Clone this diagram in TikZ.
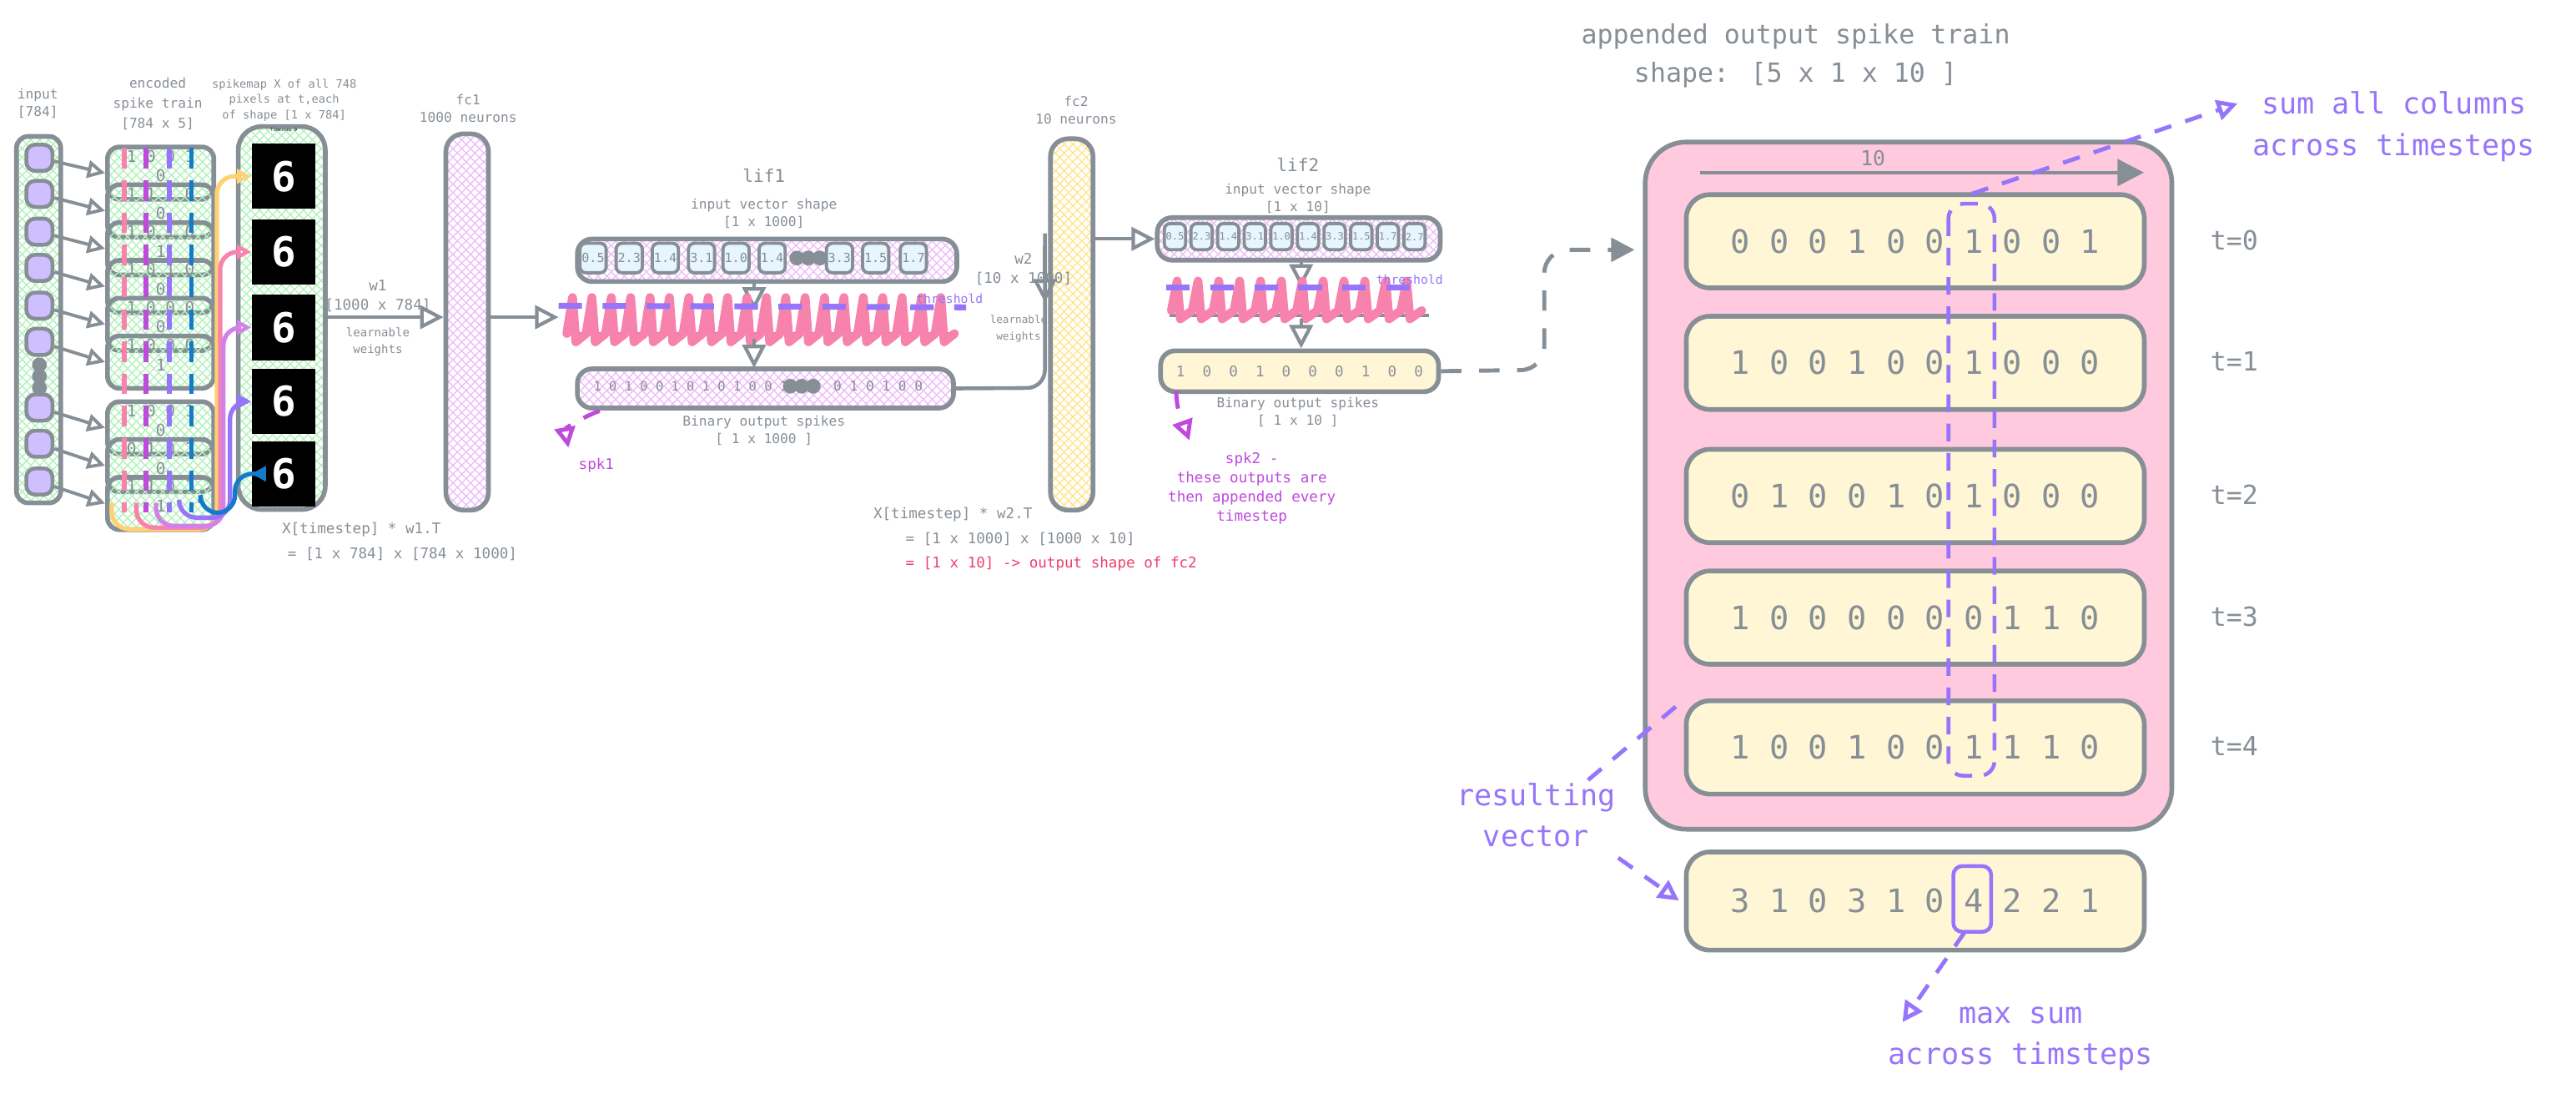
\documentclass[tikz,border=0pt]{standalone}
\usepackage{fontspec}
\setmainfont{DejaVu Sans Mono}
\usetikzlibrary{patterns,arrows.meta}
\definecolor{lgray}{HTML}{868E96}
\definecolor{spkpink}{HTML}{F783AC}
\definecolor{thpurple}{HTML}{9775FA}
\definecolor{mag}{HTML}{BE4BDB}
\definecolor{cellblue}{HTML}{E7F5FF}
\definecolor{cream}{HTML}{FFF6D6}
\definecolor{boxpink}{HTML}{FFC9DE}
\definecolor{hgreen}{HTML}{B2F2BB}
\definecolor{hviolet}{HTML}{EEBEFA}
\definecolor{hyellow}{HTML}{FFE58F}
\definecolor{sqpurple}{HTML}{D0BFFF}
\definecolor{redtxt}{HTML}{F03E6E}
\tikzstyle{gbox} = [draw=lgray,line width=1.6pt,rounded corners=4pt]
\tikzstyle{tri} = [-{Triangle[open,length=8pt,width=8pt]},draw=lgray,line width=1.2pt]
\tikzstyle{stri} = [-{Triangle[open,length=6pt,width=6pt]},draw=lgray,line width=1.1pt]
\tikzstyle{lbl} = [text=lgray,align=center,font=\fontsize{4.6}{6}\selectfont]
\tikzstyle{big} = [text=lgray,align=center,font=\fontsize{9}{13}\selectfont]
\tikzstyle{pur} = [text=thpurple,align=center,font=\fontsize{10}{14}\selectfont]
\tikzstyle{cell} = [draw=lgray,line width=1.1pt,fill=cellblue,rounded corners=2pt,inner sep=0pt,text=lgray,font=\fontsize{4.3}{5}\selectfont]
\tikzstyle{darr} = [-{Triangle[open,length=7pt,width=7pt]},line width=1.4pt,dash pattern=on 6pt off 5pt]
\begin{document}
\begin{tikzpicture}[x=0.019694cm,y=-0.019694cm]
\useasboundingbox (0,0) rectangle (1568,671.3);

% input column
\node[lbl] (inlbl) at (23,63) {input\\{}[784]};
\draw[gbox,pattern=crosshatch,pattern color=hgreen] (10,83) rectangle (37,306);
\foreach \y/\n in {96/1,118/2,141/3,163/4,186/5,208/6,248/7,270/8,293/9}
  \node[draw=lgray,line width=1.3pt,fill=sqpurple,rounded corners=3pt,minimum size=16*0.558pt,inner sep=0pt] (in\n) at (24,\y) {};
\foreach \y in {222,229,236} \fill[lgray] (24,\y) circle (4.5);

% encoded spike train
\node[lbl,font=\fontsize{4.6}{6.8}\selectfont] (enclbl) at (96,63) {encoded\\spike train\\{}[784 x 5]};
\foreach \y/\n in {88/1,111/2,134/3,157/4,180/5,203/6,243/7,266/8,289/9}
  \node[gbox,pattern=crosshatch,pattern color=hgreen,minimum width=65*0.558pt,minimum height=32*0.558pt,anchor=north west,inner sep=0pt] (enc\n) at (64,\y) {};
\foreach \n/\a/\b in {1/{1 0 0 1}/0,2/{1 1 1 0}/0,3/{1 0 1 0}/1,4/{1 0 1 0}/0,5/{1 0 0 0}/0,6/{1 0 0 0}/1,7/{1 0 0 1}/0,8/{0 1 0 1}/0,9/{1 1 0 1}/1}{
  \node[lbl,font=\fontsize{5.5}{6}\selectfont] at ([yshift=-7*0.558pt]enc\n.north) {\a};
  \node[lbl,font=\fontsize{5.5}{6}\selectfont] at ([yshift=-19*0.558pt]enc\n.north) {\b};
  \draw[stri] (in\n) -- (enc\n.west);
}
\foreach \x/\c in {75.5/spkpink,89/mag,103/thpurple,116.5/cyan!60!blue}
  \draw[\c,line width=1.6pt,dash pattern=on 7pt off 4pt] (\x,90) -- (\x,312);

% spikemap
\node[lbl,font=\fontsize{3.9}{5.2}\selectfont] (maplbl) at (173,61) {spikemap X of all 748\\pixels at t,each\\of shape [1 x 784]};
\draw[gbox,rounded corners=8pt,pattern=crosshatch,pattern color=hgreen] (145,77) rectangle (198,310);
\foreach \y/\k in {87/0,133/1,179/2,224/3,268/4}{
  \node[fill=black,minimum width=39*0.558pt,minimum height=40*0.558pt,anchor=north west,inner sep=0pt,text=white,font=\bfseries\fontsize{14}{14}\selectfont] (img\k) at (153,\y) {6};
  \node[text=black,font=\fontsize{1.5}{2}\selectfont,above=0pt] at (img\k.north) {Timestep \k};
}
\foreach \k/\x/\c/\t/\yb in {0/68/hyellow!80!orange/132/322,1/83/spkpink/134/321,2/95/mag!70/136/320,3/109/thpurple/140/315,4/122/cyan!60!blue/143/312}{
  \coordinate (src\k) at (\x,306);
  \draw[\c,line width=1.5pt,rounded corners=6pt,-{Triangle[open,length=5pt,width=5pt]}] (src\k) -- (\x,\yb) -- (\t,\yb) |- (img\k.west);
}

% fc1
\node[lbl] (fc1lbl) at (285,66) {fc1\\1000 neurons};
\node[gbox,rounded corners=6pt,pattern=crosshatch,pattern color=hviolet,minimum width=26*0.558pt,minimum height=230*0.558pt,anchor=north west,inner sep=0pt] (fc1) at (270,80) {};
\coordinate (w1s) at (198,193);
\draw[tri] (w1s) -- (w1s -| fc1.west);
\node[lbl,font=\fontsize{5}{6.5}\selectfont] (w1) at (230,180) {w1\\{}[1000 x 784]};
\node[lbl,font=\fontsize{4}{5.5}\selectfont] (w1b) at (230,208) {learnable\\weights};
\node[lbl,font=\fontsize{5}{6}\selectfont] (eq1) at (220,322) {X[timestep] * w1.T};
\node[lbl,font=\fontsize{5}{6}\selectfont] (eq1b) at (245,337) {= [1 x 784] x [784 x 1000]};

% lif1
\node[lbl,font=\fontsize{6}{7}\selectfont] (lif1) at (465,107) {lif1};
\node[lbl] (lif1in) at (465,130) {input vector shape\\{}[1 x 1000]};
\node[gbox,rounded corners=5pt,pattern=crosshatch,pattern color=hviolet,minimum width=232*0.558pt,minimum height=26*0.558pt,anchor=north west,inner sep=0pt] (vec1) at (350,144) {};
\foreach \x/\v in {361/0.5,383/2.3,405/1.4,427/3.1,448/1.0,470/1.4,511/3.3,533/1.5,556/1.7}
  \node[cell,minimum width=16*0.558pt,minimum height=18*0.558pt] at (\x,157) {\v};
\foreach \x in {485,492,499} \fill[lgray] (\x,157) circle (4.5);
\coordinate (l1in) at (340,193);
\draw[tri] (l1in -| fc1.east) -- (l1in);
\draw[tri] (459,170) -- (459,189);
\draw[lgray,line width=1.3pt] (345,203) -- (582,203);
\draw[spkpink,line width=3pt,line cap=round,line join=round] (345,203) \foreach \i in {0,...,19}{ -- ++(3.5,-22) -- ++(2,27) -- ++(6.3,-5)};
\draw[thpurple,line width=2pt,dash pattern=on 8pt off 7pt] (340,186) -- (588,187);
\node[text=thpurple,font=\fontsize{4.2}{5}\selectfont] (th1) at (578,182) {threshold};
\draw[tri] (459,206) -- (459,224);
\node[gbox,rounded corners=5pt,pattern=crosshatch,pattern color=hviolet,minimum width=230*0.558pt,minimum height=24*0.558pt,anchor=north west,inner sep=0pt] (out1) at (350,223) {};
\node[lbl,font=\fontsize{4.4}{6}\selectfont,anchor=west] (bits1) at (355,235) {1 0 1 0 0 1 0 1 0 1 0 0 1 1};
\foreach \x in {481,488,495} \fill[lgray] (\x,235) circle (4.5);
\node[lbl,font=\fontsize{4.6}{6}\selectfont,anchor=west] (bits1b) at (501,235) {0 1 0 1 0 0};
\node[lbl] (bin1) at (465,262) {Binary output spikes\\{}[ 1 x 1000 ]};
\node[text=mag,font=\fontsize{5}{6}\selectfont] (spk1) at (363,283) {spk1};
\draw[darr,mag] (365,250) to[out=200,in=100] (spk1.north west);

% fc2
\node[lbl] (fc2lbl) at (655,67) {fc2\\10 neurons};
\node[gbox,rounded corners=6pt,pattern=crosshatch,pattern color=hyellow,minimum width=26*0.558pt,minimum height=227*0.558pt,anchor=north west,inner sep=0pt] (fc2) at (638,83) {};
\draw[lgray,line width=1.3pt,rounded corners=6pt] (out1.east) -- (636,236) -- (636,142);
\draw[tri] (636,150) -- (636,184);
\node[lbl,font=\fontsize{5}{6.5}\selectfont] (w2) at (623,164) {w2\\{}[10 x 1000]};
\node[lbl,font=\fontsize{3.6}{5.5}\selectfont] (w2b) at (620,200) {learnable\\weights};
\node[lbl,font=\fontsize{5}{6}\selectfont] (eq2) at (580,313) {X[timestep] * w2.T};
\node[lbl,font=\fontsize{5}{6}\selectfont,anchor=west] (eq2b) at (545,328) {= [1 x 1000] x [1000 x 10]};
\node[text=redtxt,font=\fontsize{5}{6}\selectfont,anchor=west] (eq2c) at (545,343) {= [1 x 10] -> output shape of fc2};

% lif2
\node[lbl,font=\fontsize{6}{7}\selectfont] (lif2) at (790,100) {lif2};
\node[lbl] (lif2in) at (790,121) {input vector shape\\{}[1 x 10]};
\node[gbox,rounded corners=5pt,pattern=crosshatch,pattern color=hviolet,minimum width=173*0.558pt,minimum height=26*0.558pt,anchor=north west,inner sep=0pt] (vec2) at (703,131) {};
\foreach \v [count=\i] in {0.5,2.3,1.4,3.1,1.0,1.4,3.3,1.5,1.7,2.7}
  \node[cell,minimum width=13*0.558pt,minimum height=16*0.558pt,font=\fontsize{3.4}{4}\selectfont] at ({703+16.2*\i-4},144) {\v};
\draw[tri] (vec2.west -| fc2.east) -- (vec2.west);
\draw[tri] (792,157) -- (792,175);
\draw[lgray,line width=1.3pt] (712,192) -- (870,192);
\draw[spkpink,line width=3pt,line cap=round,line join=round] (713,189) \foreach \i in {0,...,11}{ -- ++(3.5,-18) -- ++(2,23) -- ++(7.2,-5)};
\draw[thpurple,line width=2pt,dash pattern=on 8pt off 7pt] (710,175) -- (870,175);
\node[text=thpurple,font=\fontsize{4.2}{5}\selectfont] (th2) at (858,170) {threshold};
\draw[tri] (792,194) -- (792,212);
\node[gbox,rounded corners=5pt,fill=cream,minimum width=170*0.558pt,minimum height=25*0.558pt,anchor=north west,inner sep=0pt,text=lgray,font=\fontsize{5}{6}\selectfont] (out2) at (705,212) {1\ \ 0\ \ 0\ \ 1\ \ 0\ \ 0\ \ 0\ \ 1\ \ 0\ \ 0};
\node[lbl] (bin2) at (790,251) {Binary output spikes\\{}[ 1 x 10 ]};
\node[text=mag,font=\fontsize{5}{6.5}\selectfont,align=center] (spk2) at (762,297) {spk2 -\\these outputs are\\then appended every\\timestep};
\draw[darr,mag] (716,238) to[out=-90,in=110] (724,268);

% appended output
\node[big] (title) at (1093,34) {appended output spike train\\shape: [5 x 1 x 10 ]};
\node[draw=lgray,line width=1.6pt,fill=boxpink,rounded corners=14pt,minimum width=322*0.558pt,minimum height=420*0.558pt,anchor=north west,inner sep=0pt] (app) at (1000,85) {};
\coordinate (appin) at (995,152);
\draw[lgray,line width=1.4pt,dash pattern=on 7pt off 6pt,-{Triangle[length=8pt,width=8pt]},rounded corners=8pt] (out2.east) -- (940,225) -- (940,152) -- (appin);
\node[lbl,font=\fontsize{7}{8}\selectfont] (ten) at (1140,96) {10};
\draw[lgray,line width=1.3pt,-{Triangle[length=9pt,width=9pt]}] (1035,105) -- (1305,105);
\foreach \y/\t/\v in {117/0/{0 0 0 1 0 0 1 0 0 1},191/1/{1 0 0 1 0 0 1 0 0 0},272/2/{0 1 0 0 1 0 1 0 0 0},346/3/{1 0 0 0 0 0 0 1 1 0},425/4/{1 0 0 1 0 0 1 1 1 0}}{
  \node[gbox,rounded corners=8pt,fill=cream,minimum width=280*0.558pt,minimum height=57*0.558pt,anchor=north west,inner sep=0pt,text=lgray,font=\fontsize{11}{12}\selectfont] (row\t) at (1025,\y) {\v};
  \node[big,font=\fontsize{9}{10}\selectfont] (tl\t) at (1360,{\y+29}) {t=\t};
}
\node[gbox,rounded corners=8pt,fill=cream,minimum width=280*0.558pt,minimum height=60*0.558pt,anchor=north west,inner sep=0pt,text=lgray,font=\fontsize{11}{12}\selectfont] (res) at (1025,517) {3 1 0 3 1 0 4 2 2 1};
\draw[thpurple,line width=1.3pt,dash pattern=on 6pt off 4pt,rounded corners=5pt] (1186,124) rectangle (1214,472);
\draw[thpurple,line width=1.3pt,rounded corners=3pt] (1189,527) rectangle (1212,567);
\node[pur,anchor=west] (sumlbl) at (1365,77) {sum all columns\\across timesteps};
\draw[darr,thpurple] (1200,118) -- (1362,63);
\node[pur] (reslbl) at (935,496) {resulting\\vector};
\draw[thpurple,line width=1.4pt,dash pattern=on 6pt off 5pt] (1020,430) -- (965,476);
\draw[darr,thpurple] (985,522) -- (1022,548);
\node[pur] (maxlbl) at (1230,632) {max sum\\across timsteps};
\draw[darr,thpurple] (1196,567) -- (1158,622);
\end{tikzpicture}
\end{document}
